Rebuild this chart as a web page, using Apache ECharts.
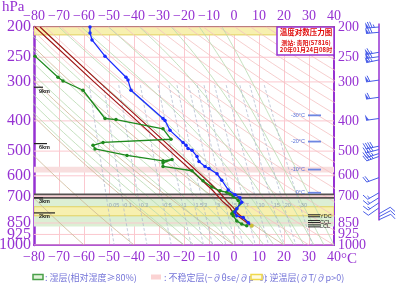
<!DOCTYPE html>
<html><head><meta charset="utf-8">
<script src="https://cdn.jsdelivr.net/npm/echarts@6/dist/echarts.min.js"></script>
<style>html,body{margin:0;padding:0;background:#fff;}#chart{width:396px;height:283px;}</style>
</head><body><div id="chart"></div>
<script>
// ================= DATA =================
const pressureTicks = [200,250,300,400,500,600,700,850,925,1000];
const tempP = [200,209,220,248,290,296,319,393,399,429,469,479,490,497,520,540,560,569,591,620,666,690,705,730,765,784,806,816,848,868];
const tempT = [-57.6,-57.6,-56.8,-51.6,-43.2,-42.4,-41.2,-28.4,-27.6,-25.6,-20.4,-19.2,-18.4,-16.8,-14.8,-14.0,-11.6,-10.0,-6.8,-4.9,-2.3,0.4,2.4,3.1,1.1,0.4,1.1,3.7,5.7,7.1];
const dewP = [248,290,298,319,393,396,424,458,469,479,492,516,537,532,545,560,578,622,652,670,678,686,700,720,737,765,784,794,806,837,857,868];
const dewT = [-79.6,-70.4,-68.4,-60.4,-51.6,-47.2,-28.4,-25.2,-52.4,-56.4,-55.6,-42.8,-28.4,-24.8,-28.4,-28.4,-16.8,-12.4,-8.9,-5.6,-2.9,-1.6,-0.3,1.7,2.4,1.1,-0.3,-0.9,-0.3,1.1,3.1,5.1];
const parcelP = [200,300,400,500,600,670,727,760,788,826,868];
const parcelT1 = [-79.6,-56,-38.8,-25.6,-14.8,-8.4,-4.4,-1.6,-0.4,3.2,6.8];
const parcelT2 = [-77.6,-54,-36.8,-23.6,-12.8,-6.4,-2.6,-0.2,1.2,4.2,7.1];
const windP   = [200,208,241,249,255,296,336,393,482,494,509,520,608,680,705,732,760,794,812,830];
const windDir = [265,265,260,262,258,262,262,262,258,255,252,250,250,240,238,236,235,60,62,65];
const windSpd = [30,28,26,28,26,24,24,20,16,16,14,14,8,6,6,6,4,4,4,4];
const heightLabels = ['9km','6km','3km','2km'];
const heightP = [312,473,706,789];
const isoLabels = ['-30°C','-20°C','-10°C','0°C'];
const isoP = [384,466,573,680];
const levelLabels = ['YDC','CCL','LCL'];
const levelP = [800,835,862];
const mixRatios = [0.05,0.1,0.2,0.5,1,1.5,2,3,4,5,7,10,15,20,30];
const dryThetaTan = [-60,-40,-20,0,20];
const dryThetaPink = [30,40,50,60,70,80,90,100,110,120,130,140,150,160,170,180,190,200];
const moistT0 = [-20,-16,-12,-8,-4,0,4,8,12,16,20,24,28,32,36,40];
const inversionBands = [[200,212],[754,806]];
const wetBands = [[706,872]];
const unstableBands = [[561,586],[688,706]];
const darkLines = [688,706];

// ================= LAYOUT / STYLE =================
const PURPLE='#9632d2', SERIF='"Liberation Serif","Times New Roman",serif', CJK='"Noto Sans CJK SC",sans-serif';
const BARB='#4a5ee8';
const Y = p => Math.log(p);
const series = [];
function bgLine(pts, color, width, dash, z){
  series.push({type:'line', data:pts, symbol:'none', silent:true, animation:false, z:z||2, clip:true,
    lineStyle:{color, width, type:dash||'solid'}});
}
function es(T){return 6.112*Math.exp(17.67*T/(T+243.5));}
function logSteps(n){const a=[];for(let i=0;i<=n;i++){a.push(Math.exp(Math.log(200)+(Math.log(1000)-Math.log(200))*i/n));}return a;}

// bands
function bandSeries(bands, fill, stroke, z){
  series.push({type:'custom', silent:true, z, animation:false, clip:true,
    data: bands.map(b=>[0, Y(b[0]), Y(b[1])]),
    renderItem(params, api){
      const cs=params.coordSys;
      const y1=api.coord([0, api.value(1)])[1], y2=api.coord([0, api.value(2)])[1];
      return {type:'rect', shape:{x:cs.x, y:Math.min(y1,y2), width:cs.width, height:Math.abs(y2-y1)},
        style:{fill, stroke:stroke||null, lineWidth:1}};
    }});
}
bandSeries(wetBands, '#dcefd4', null, 1);
bandSeries(unstableBands, '#f8dede', null, 1);
bandSeries(inversionBands, '#f7f0b0', '#e2d260', 1);

// horizontal grid lines
pressureTicks.forEach(p=>bgLine([[-80,Y(p)],[40,Y(p)]], '#fbc8cf', 1, 'solid', 2));
// dark lines
darkLines.forEach(p=>bgLine([[-80,Y(p)],[40,Y(p)]], '#555050', 1.6, 'solid', 3));

// dry adiabats
const ps = logSteps(30);
dryThetaTan.forEach(th=>bgLine(ps.map(p=>[(th+273.15)*Math.pow(p/1000,0.2857)-273.15, Y(p)]), '#cdb796', 0.8));
dryThetaPink.forEach(th=>bgLine(ps.map(p=>[(th+273.15)*Math.pow(p/1000,0.2857)-273.15, Y(p)]), '#f4c2c2', 0.8));
// moist adiabats
moistT0.forEach(T0=>{
  const pts=[]; let T=T0; let lp=Math.log(1000); const n=60; const dl=(Math.log(200)-lp)/n;
  for(let i=0;i<=n;i++){
    const p=Math.exp(lp); pts.push([T, lp]);
    const Tk=T+273.15, e=es(T), rs=0.622*e/(p-e);
    const g=(287*Tk+2.5e6*rs)/(1004+2.5e6*2.5e6*rs*0.622/(287*Tk*Tk));
    T+=g*dl; lp+=dl;
  }
  bgLine(pts, '#b6d9ae', 0.8);
});
// mixing ratio lines
function mixT(r,p){const e=r*1e-3*p/(0.622+r*1e-3);const l=Math.log(e/6.112);return 243.5*l/(17.67-l);}
const psMix = ps.filter(p=>p>=300);
mixRatios.forEach(r=>bgLine(psMix.map(p=>[mixT(r,p), Y(p)]), '#a9b5cc', 0.7, [3,2]));
// mixing labels
series.push({type:'custom', silent:true, z:4, animation:false, clip:true,
  data: mixRatios.map(r=>[mixT(r,745), Y(745)]),
  renderItem(params, api){
    const c=api.coord([api.value(0), api.value(1)]);
    return {type:'text', style:{text:String(mixRatios[params.dataIndex]), x:c[0]+1, y:c[1], fill:'#95a3b5', font:'5.5px sans-serif', textAlign:'left', textVerticalAlign:'middle'}};
  }});

// pressure tick labels (left and right of the plot)
series.push({type:'custom', silent:true, z:20, animation:false, clip:false,
  data: pressureTicks.map(p=>[0, Y(p)]),
  renderItem(params, api){
    const cs=params.coordSys, i=params.dataIndex;
    const y=api.coord([0, api.value(1)])[1];
    const t=String(pressureTicks[i]);
    return {type:'group', children:[
      {type:'text', style:{text:t, x:cs.x-3, y:y, fill:PURPLE, font:'16px '+SERIF, textAlign:'right', textVerticalAlign:'middle'}},
      {type:'text', style:{text:t, x:cs.x+cs.width+4, y:y, fill:PURPLE, font:'14px '+SERIF, textAlign:'left', textVerticalAlign:'middle'}}
    ]};
  }});

// height marks
const heightLen=[9,13,9,21];
series.push({type:'custom', silent:true, z:6, animation:false, clip:false,
  data: heightP.map(p=>[0,Y(p)]),
  renderItem(params, api){
    const cs=params.coordSys, i=params.dataIndex;
    const y=api.coord([0, api.value(1)])[1];
    return {type:'group', children:[
      {type:'line', shape:{x1:cs.x, y1:y, x2:cs.x+heightLen[i], y2:y}, style:{stroke:'#222', lineWidth:1.2}},
      {type:'text', style:{text:heightLabels[i], x:cs.x+5, y:y+4, fill:'#222', font:'bold 5.5px sans-serif', textAlign:'left', textVerticalAlign:'middle'}}
    ]};
  }});
// isotherm level marks
series.push({type:'custom', silent:true, z:6, animation:false, clip:false,
  data: isoP.map(p=>[0,Y(p)]),
  renderItem(params, api){
    const cs=params.coordSys, i=params.dataIndex;
    const y=api.coord([0, api.value(1)])[1]; const xr=cs.x+cs.width;
    return {type:'group', children:[
      {type:'line', shape:{x1:xr-26, y1:y, x2:xr-13, y2:y}, style:{stroke:'#6c86e2', lineWidth:1.8}},
      {type:'text', style:{text:isoLabels[i], x:xr-29, y:y, fill:'#5a72d8', font:'5.5px sans-serif', textAlign:'right', textVerticalAlign:'middle'}}
    ]};
  }});
// special levels
series.push({type:'custom', silent:true, z:6, animation:false, clip:false,
  data: levelP.map(p=>[0,Y(p)]),
  renderItem(params, api){
    const cs=params.coordSys, i=params.dataIndex;
    const y=api.coord([0, api.value(1)])[1]; const xr=cs.x+cs.width;
    return {type:'group', children:[
      {type:'line', shape:{x1:xr-26, y1:y, x2:xr-14, y2:y}, style:{stroke:'#222', lineWidth:1}},
      {type:'line', shape:{x1:xr-26, y1:y+2, x2:xr-14, y2:y+2}, style:{stroke:'#222', lineWidth:1}},
      {type:'text', style:{text:levelLabels[i], x:xr-14, y:y+2, fill:'#222', font:'5.5px sans-serif', textAlign:'left', textVerticalAlign:'middle'}}
    ]};
  }});

// parcel curves
[parcelT1, parcelT2].forEach(arr=>series.push({type:'line', z:8, silent:true, animation:false, symbol:'none',
  data: parcelP.map((p,i)=>[arr[i], Y(p)]), lineStyle:{color:'#a01818', width:1.2}}));
// dew point
series.push({type:'line', z:9, silent:true, animation:false, symbol:'circle', symbolSize:3.5,
  data: dewP.map((p,i)=>[dewT[i], Y(p)]), lineStyle:{color:'#1d8a1d', width:1.3}, itemStyle:{color:'#1d8a1d'}});
// temperature
series.push({type:'line', z:10, silent:true, animation:false, symbol:'circle', symbolSize:3.5,
  data: tempP.map((p,i)=>[tempT[i], Y(p)]), lineStyle:{color:'#1a2cff', width:1.3}, itemStyle:{color:'#1a2cff'}});
// surface point
series.push({type:'scatter', z:11, silent:true, animation:false, symbolSize:4,
  data:[[tempT[tempT.length-1], Y(tempP[tempP.length-1])]], itemStyle:{color:'#f5e600'}});

// wind barbs staff line
series.push({type:'custom', silent:true, z:12, animation:false, clip:false,
  data:[[0, Y(195), Y(835)]],
  renderItem(params, api){
    const cs=params.coordSys; const ax=cs.x+cs.width+45;
    const y1=api.coord([0,api.value(1)])[1], y2=api.coord([0,api.value(2)])[1];
    return {type:'line', shape:{x1:ax,y1:y1,x2:ax,y2:y2}, style:{stroke:PURPLE, lineWidth:1.5}};
  }});
// wind barbs
series.push({type:'custom', silent:true, z:13, animation:false, clip:false,
  data: windP.map((p,i)=>[0, Y(p), windDir[i], windSpd[i]]),
  renderItem(params, api){
    const cs=params.coordSys; const ax=cs.x+cs.width+45;
    const ay=api.coord([0, api.value(1)])[1];
    const d=api.value(2)*Math.PI/180, s=api.value(3);
    const ux=Math.sin(d), uy=-Math.cos(d), px=-uy, py=ux;
    const L=13, F=6, G=2.3;
    const P=(t,o)=>[ax+ux*t+px*o, ay+uy*t+py*o];
    const ch=[{type:'line', shape:{x1:ax,y1:ay,x2:ax+ux*L,y2:ay+uy*L}, style:{stroke:BARB,lineWidth:1}}];
    let rem=s, pos=L;
    while(rem>=20){ch.push({type:'polygon', shape:{points:[P(pos,0),P(pos-3,0),P(pos+0.5,F)]}, style:{fill:BARB}}); pos-=3.8; rem-=20;}
    while(rem>=4){const a=P(pos,0), b=P(pos+2,F); ch.push({type:'line', shape:{x1:a[0],y1:a[1],x2:b[0],y2:b[1]}, style:{stroke:BARB,lineWidth:1}}); pos-=G; rem-=4;}
    if(rem>=2){ if(pos===L) pos-=G; const a=P(pos,0), b=P(pos+1,F/2); ch.push({type:'line', shape:{x1:a[0],y1:a[1],x2:b[0],y2:b[1]}, style:{stroke:BARB,lineWidth:1}}); }
    return {type:'group', children:ch};
  }});

const fmtT = v => (v<0 ? '\u2212'+(-v) : String(v));
const chart = echarts.init(document.getElementById('chart'), null, {renderer:'canvas'});
chart.setOption({
  animation:false,
  backgroundColor:'#ffffff',
  grid:{left:34, right:62, top:27, bottom:38, containLabel:false},
  xAxis:[
    {type:'value', min:-80, max:40, interval:10, position:'bottom',
     axisLine:{show:true, onZero:false, lineStyle:{color:PURPLE, width:2}}, axisTick:{show:false},
     axisLabel:{color:PURPLE, fontFamily:SERIF, fontSize:14, margin:5, formatter:fmtT, showMinLabel:true, showMaxLabel:true},
     splitLine:{show:true, lineStyle:{color:'#fbc8cf', width:1}}},
    {type:'value', min:-80, max:40, interval:10, position:'top',
     axisLine:{show:true, onZero:false, lineStyle:{color:'#8b3030', width:1.5}}, axisTick:{show:false},
     axisLabel:{color:PURPLE, fontFamily:SERIF, fontSize:14, margin:4, formatter:fmtT, showMinLabel:true, showMaxLabel:true},
     splitLine:{show:false}}
  ],
  yAxis:[
    {type:'value', inverse:true, min:Y(200), max:Y(1000), position:'left',
     axisLine:{show:true, onZero:false, lineStyle:{color:PURPLE, width:2.5}}, axisTick:{show:false},
     axisLabel:{show:false}, splitLine:{show:false}},
    {type:'value', inverse:true, min:Y(200), max:Y(1000), position:'right',
     axisLine:{show:true, onZero:false, lineStyle:{color:PURPLE, width:2}}, axisTick:{show:false},
     axisLabel:{show:false}, splitLine:{show:false}}
  ],
  graphic:[
    {type:'text', z:100, style:{text:'hPa', x:2, y:7, font:'15px '+SERIF, fill:PURPLE, textAlign:'left', textVerticalAlign:'middle'}},
    {type:'text', z:100, style:{text:'°C', x:341, y:259, font:'15px '+SERIF, fill:PURPLE, textAlign:'left', textVerticalAlign:'middle'}},
    {type:'rect', z:100, shape:{x:277, y:27, width:57, height:28}, style:{fill:'#fff', stroke:PURPLE, lineWidth:1.5}},
    {type:'text', z:101, style:{text:'温度对数压力图', x:306, y:32.5, font:'bold 7.5px '+CJK, fill:'#e01010', textAlign:'center', textVerticalAlign:'middle'}},
    {type:'text', z:101, style:{text:'测站: 贵阳(57816)', x:306, y:42.5, font:'bold 6px '+CJK, fill:'#e01010', textAlign:'center', textVerticalAlign:'middle'}},
    {type:'text', z:101, style:{text:'20年01月24日08时', x:306, y:50, font:'bold 6px '+CJK, fill:'#e01010', textAlign:'center', textVerticalAlign:'middle'}},
    {type:'rect', z:100, shape:{x:33, y:274.5, width:10, height:5}, style:{fill:'#e2f3da', stroke:'#4aa04a', lineWidth:1.5}},
    {type:'text', z:100, style:{text:': 湿层(相对湿度≥80%)', x:45, y:277.5, font:'9px '+CJK, fill:'#7474d8', textAlign:'left', textVerticalAlign:'middle'}},
    {type:'rect', z:100, shape:{x:151, y:274.5, width:10, height:5}, style:{fill:'#fbd3d3'}},
    {type:'text', z:100, style:{text:': 不稳定层(−∂θse/∂p<0)', x:164, y:277.5, font:'9px '+CJK, fill:'#7474d8', textAlign:'left', textVerticalAlign:'middle'}},
    {type:'rect', z:100, shape:{x:251, y:274.5, width:11, height:5}, style:{fill:'#fffbe0', stroke:'#f0d84a', lineWidth:1.5}},
    {type:'text', z:100, style:{text:': 逆温层(∂T/∂p>0)', x:265, y:277.5, font:'9px '+CJK, fill:'#7474d8', textAlign:'left', textVerticalAlign:'middle'}}
  ],
  series
});
</script></body></html>
